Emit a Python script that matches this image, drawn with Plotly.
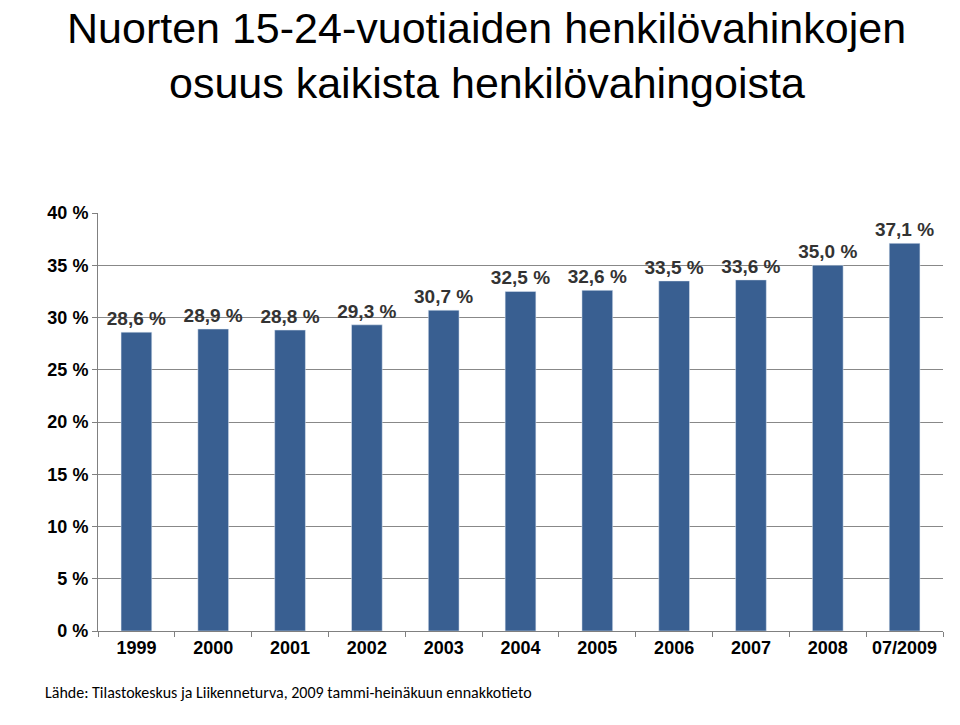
import plotly.graph_objects as go

years = ['1999', '2000', '2001', '2002', '2003', '2004', '2005', '2006', '2007', '2008', '07/2009']
shares = [28.6, 28.9, 28.8, 29.3, 30.7, 32.5, 32.6, 33.5, 33.6, 35.0, 37.1]
y_ticks = [0, 5, 10, 15, 20, 25, 30, 35, 40]

labels = [f'{v:.1f} %'.replace('.', ',') for v in shares]

fig = go.Figure(go.Bar(
    x=years, y=shares, text=labels, textposition='outside', constraintext='none',
    textfont=dict(family='Liberation Sans', size=19, color='#333333', weight='bold'),
    marker=dict(color='#395F91'), width=0.4, cliponaxis=False,
))

title_font = dict(family='Liberation Sans', size=43, color='black')
fig.update_layout(
    width=960, height=725,
    margin=dict(l=90, r=25, t=205, b=102),
    plot_bgcolor='white', paper_bgcolor='white',
    showlegend=False,
    annotations=[
        dict(text='Nuorten 15-24-vuotiaiden henkilövahinkojen', xref='paper', yref='paper',
             x=0.46, y=1.443, xanchor='center', yanchor='middle', showarrow=False, font=title_font),
        dict(text='osuus kaikista henkilövahingoista', xref='paper', yref='paper',
             x=0.46, y=1.311, xanchor='center', yanchor='middle', showarrow=False, font=title_font),
        dict(text='Lähde: Tilastokeskus ja Liikenneturva, 2009 tammi-heinäkuun ennakkotieto',
             xref='paper', yref='paper', x=-0.065, y=-0.175, xanchor='left', yanchor='bottom',
             showarrow=False, font=dict(family='Carlito, Liberation Sans', size=16, color='black')),
    ],
)
fig.update_xaxes(
    automargin=False,
    showline=True, linecolor='#808080', ticks='outside', tickcolor='#808080',
    tickson='boundaries', ticklen=5,
    tickfont=dict(family='Liberation Sans', size=18, color='black', weight='bold'),
)
fig.update_yaxes(
    automargin=False,
    range=[0, 40], tickvals=y_ticks, ticktext=[f'{v} %' for v in y_ticks],
    showgrid=True, gridcolor='#888888', gridwidth=1,
    showline=True, linecolor='#808080', ticks='outside', tickcolor='#808080', ticklen=5,
    tickfont=dict(family='Liberation Sans', size=18, color='black', weight='bold'),
)

fig.write_html('out.html')
